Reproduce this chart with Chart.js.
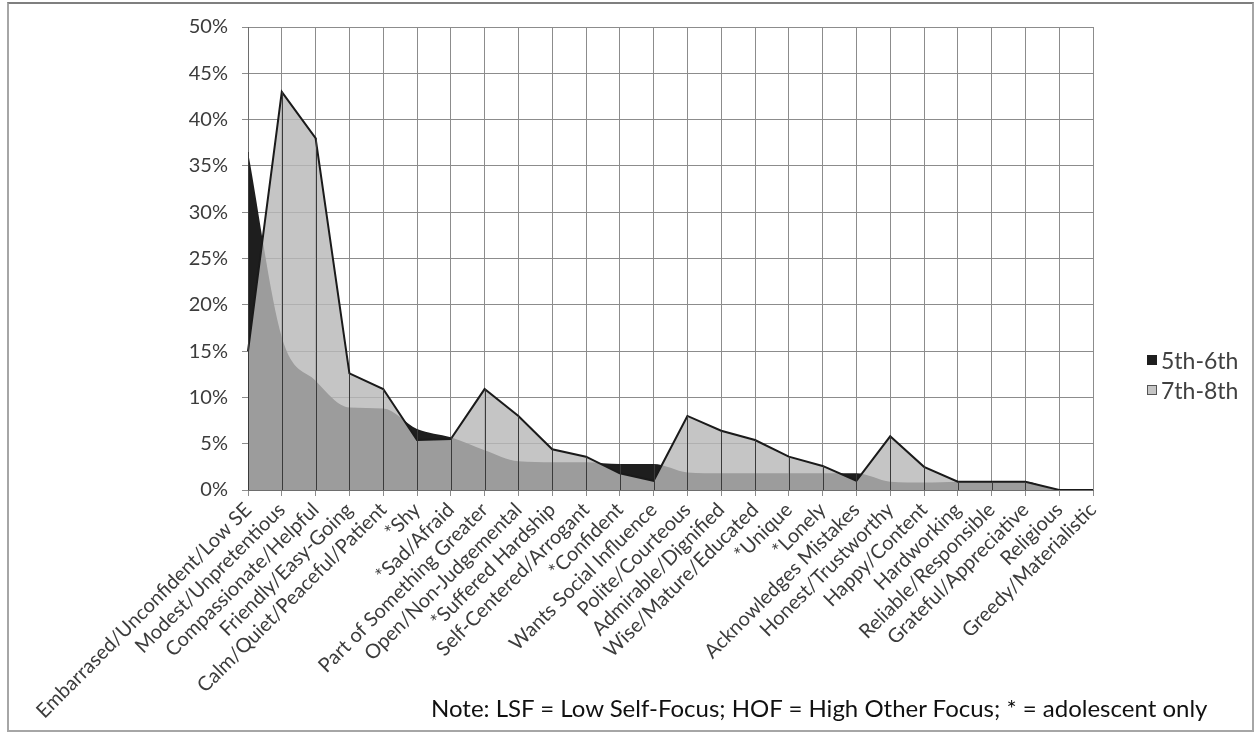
<!DOCTYPE html>
<html>
<head>
<meta charset="utf-8">
<title>Descriptors by grade</title>
<script src="https://cdn.jsdelivr.net/npm/chart.js@4.4.1/dist/chart.umd.min.js"></script>
<style>
  html, body { margin: 0; padding: 0; background: #fff; }
  #wrap { position: relative; width: 1255px; height: 733px; overflow: hidden; }
  #chart { position: absolute; left: 0; top: 0; }
  #frame { position: absolute; left: 7px; top: 2px; width: 1243px; height: 726px;
           border: 2px solid #a6a6a6; border-top-color: #7f7f7f; pointer-events: none; }
  #legend { position: absolute; left: 1147px; top: 345px; font-family: Lato, "Open Sans", sans-serif;
            font-size: 23px; color: #404040; }
  #legend .item { display: flex; align-items: center; height: 30px; }
  #legend .box { width: 10px; height: 10px; margin-right: 4px; box-sizing: border-box; }
  #note { position: absolute; left: 431px; top: 693px; font-family: Lato, "Open Sans", sans-serif;
          font-size: 24px; line-height: 30px; color: #111; white-space: nowrap; }
</style>
</head>
<body>
<div id="wrap">
  <canvas id="chart" width="1255" height="733"></canvas>
  <div id="legend"></div>
  <div id="note">Note: LSF = Low Self-Focus; HOF = High Other Focus; * = adolescent only</div>
  <div id="frame"></div>
</div>
<script>
// descriptors on the x axis
const categories = [
  'Embarrased/Unconfident/Low SE', 'Modest/Unpretentious', 'Compassionate/Helpful',
  'Friendly/Easy-Going', 'Calm/Quiet/Peaceful/Patient', '*Shy', '*Sad/Afraid',
  'Part of Something Greater', 'Open/Non-Judgemental', '*Suffered Hardship',
  'Self-Centered/Arrogant', '*Confident', 'Wants Social Influence', 'Polite/Courteous',
  'Admirable/Dignified', 'Wise/Mature/Educated', '*Unique', '*Lonely',
  'Acknowledges Mistakes', 'Honest/Trustworthy', 'Happy/Content', 'Hardworking',
  'Reliable/Responsible', 'Grateful/Appreciative', 'Religious', 'Greedy/Materialistic'
];

// percent of responses
const grade56 = [36.5, 16.5, 11.8, 8.9, 8.8, 6.6, 5.7, 4.3, 3.1, 3.0, 3.0, 2.8, 2.8,
                 1.9, 1.8, 1.8, 1.8, 1.8, 1.8, 0.9, 0.8, 0.9, 0.9, 0.9, 0, 0];
const grade78 = [15.0, 43.0, 38.0, 12.6, 10.9, 5.4, 5.5, 10.9, 8.0, 4.4, 3.6, 1.8, 1.0,
                 8.0, 6.4, 5.4, 3.6, 2.6, 1.0, 5.8, 2.5, 0.9, 0.9, 0.9, 0, 0];

const seriesNames = ['5th-6th', '7th-8th'];
const yTickValues = [0, 5, 10, 15, 20, 25, 30, 35, 40, 45, 50];

const fill56 = '#1e1e1e';
const fill78 = 'rgba(184,184,184,0.82)';
const textColor = '#3c3c3c';
const gridColor = '#8c8c8c';

Chart.defaults.font.family = 'Lato, "Open Sans", sans-serif';

// Excel style drop lines, drawn over the areas
const dropLines = {
  id: 'dropLines',
  afterDatasetsDraw(chart) {
    const ctx = chart.ctx;
    const x = chart.scales.x, y = chart.scales.y;
    ctx.save();
    ctx.strokeStyle = '#3a3a3a';
    ctx.lineWidth = 1;
    categories.forEach((c, i) => {
      const px = Math.round(x.getPixelForValue(i)) + 0.5;
      ctx.beginPath();
      ctx.moveTo(px, y.getPixelForValue(Math.max(grade56[i], grade78[i])));
      ctx.lineTo(px, y.getPixelForValue(0));
      ctx.stroke();
    });
    ctx.restore();
  }
};

const ctx = document.getElementById('chart').getContext('2d');
const chart = new Chart(ctx, {
  type: 'line',
  data: {
    labels: categories,
    datasets: [
      {
        label: seriesNames[0],
        data: grade56,
        fill: 'origin',
        backgroundColor: fill56,
        borderColor: 'rgba(0,0,0,0)',
        borderWidth: 0,
        pointRadius: 0,
        cubicInterpolationMode: 'monotone',
        order: 1
      },
      {
        label: seriesNames[1],
        data: grade78,
        fill: 'origin',
        backgroundColor: fill78,
        borderColor: '#1a1a1a',
        borderWidth: 2,
        pointRadius: 0,
        tension: 0,
        order: 0
      }
    ]
  },
  options: {
    responsive: false,
    animation: false,
    devicePixelRatio: 1,
    layout: { padding: { top: 27, right: 162, left: 0, bottom: 0 } },
    plugins: {
      legend: { display: false },
      tooltip: { enabled: false }
    },
    scales: {
      x: {
        offset: false,
        grid: { color: gridColor, tickLength: 6 },
        border: { color: '#6e6e6e' },
        ticks: {
          autoSkip: false, maxRotation: 45, minRotation: 45, padding: 2,
          color: textColor, font: { size: 20 }
        },
        afterFit: s => { s.height = 243; }
      },
      y: {
        min: 0, max: 50,
        grid: { color: gridColor, tickLength: 6 },
        border: { color: '#6e6e6e' },
        ticks: {
          padding: 14, color: textColor, font: { size: 20 },
          callback: v => v + '%'
        },
        afterBuildTicks: s => { s.ticks = yTickValues.map(v => ({ value: v })); },
        afterFit: s => { s.width = 248; }
      }
    }
  },
  plugins: [dropLines]
});

// legend in the style of the original
const legend = document.getElementById('legend');
chart.data.datasets.forEach((d, i) => {
  const item = document.createElement('div');
  item.className = 'item';
  const box = document.createElement('span');
  box.className = 'box';
  box.style.background = d.backgroundColor;
  box.style.border = i === 1 ? '1px solid #555' : '1px solid ' + d.backgroundColor;
  const txt = document.createElement('span');
  txt.textContent = d.label;
  item.appendChild(box);
  item.appendChild(txt);
  legend.appendChild(item);
});
</script>
</body>
</html>
